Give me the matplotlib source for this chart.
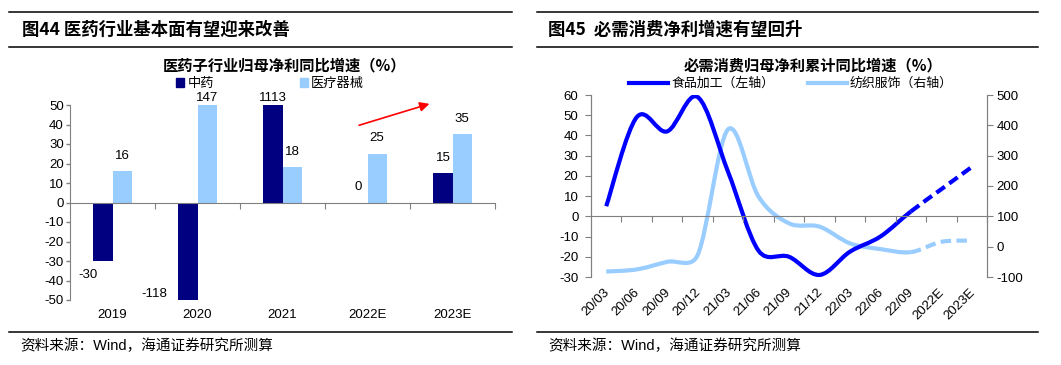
import numpy as np
import matplotlib
matplotlib.use('Agg')
import matplotlib.pyplot as plt
from matplotlib.path import Path
from matplotlib.patches import PathPatch, Patch
from matplotlib.lines import Line2D
from matplotlib.transforms import blended_transform_factory

plt.rcParams['font.family'] = ['Liberation Sans', 'Noto Sans CJK SC']
plt.rcParams['axes.unicode_minus'] = False

# ---- данные: левый график (医药) ----
years = ['2019', '2020', '2021', '2022E', '2023E']
tcm = [-30, -118, 1113, 0, 15]          # 中药
devices = [16, 147, 18, 25, 35]         # 医疗器械

# ---- данные: правый график (必需消费) ----
periods = ['20/03', '20/06', '20/09', '20/12', '21/03', '21/06', '21/09',
           '21/12', '22/03', '22/06', '22/09', '2022E', '2023E']
food = [5, 49, 42, 59, 22, -17, -20, -29, -17.5, -10, 2.4, 13.4, 24.4]      # 食品加工 (левая ось)
textile = [-82, -75, -50, -28, 387, 165, 77, 66, 11, -8, -18, 16, 20]     # 纺织服饰 (правая ось)
n_actual = 11  # первые 11 точек факт, дальше прогноз

GRAY = '#808080'
NAVY = '#000080'
LIGHT = '#99CCFF'
BLUE = '#0000FF'
CJK = ['Noto Sans CJK SC', 'DejaVu Sans']

W, H = 1061, 365
fig = plt.figure(figsize=(W / 100, H / 100), dpi=100)


def hline(x0, x1, y):
    fig.add_artist(Line2D([x0 / W, x1 / W], [1 - y / H, 1 - y / H],
                          transform=fig.transFigure, color='black', lw=1.1))


def smooth_segments(ax, x, y, clamp=0.5):
    """Bezier-сегменты сглаженной линии (примерно как в Excel), считаем в пикселях."""
    bb = ax.get_position()
    x0, x1 = ax.get_xlim()
    y0, y1 = ax.get_ylim()
    sx = bb.width * W / (x1 - x0)
    sy = bb.height * H / (y1 - y0)
    P = np.column_stack([np.asarray(x, float) * sx, np.asarray(y, float) * sy])
    n = len(P)
    T = [(P[min(i + 1, n - 1)] - P[max(i - 1, 0)]) / 6 for i in range(n)]

    def limit(v, L):
        m = np.hypot(*v)
        return v * (clamp * L / m) if m > clamp * L else v

    segs = []
    for i in range(n - 1):
        L = np.hypot(*(P[i + 1] - P[i]))
        c1 = P[i] + limit(T[i], L)
        c2 = P[i + 1] - limit(T[i + 1], L)
        pts = np.array([P[i], c1, c2, P[i + 1]])
        pts[:, 0] /= sx
        pts[:, 1] /= sy
        segs.append(pts)
    return segs


def draw_smooth(ax, segs, color, ls='-'):
    verts = [segs[0][0]]
    codes = [Path.MOVETO]
    for s in segs:
        verts += [s[1], s[2], s[3]]
        codes += [Path.CURVE4] * 3
    patch = PathPatch(Path(verts, codes), fill=False, edgecolor=color, lw=3,
                      linestyle=ls, transform=ax.transData, capstyle='butt')
    ax.add_patch(patch)


# ================= ЛЕВАЯ ПАНЕЛЬ =================
hline(9, 512, 12)
hline(9, 512, 47)
hline(9, 512, 332)
fig.text(22 / W, 1 - 30 / H, '图44 医药行业基本面有望迎来改善', family=CJK,
         fontsize=12.5, fontweight='bold', va='center', ha='left')
fig.text(285 / W, 1 - 65 / H, '医药子行业归母净利同比增速（%）', family=CJK,
         fontsize=11, fontweight='bold', va='center', ha='center')
fig.text(20 / W, 1 - 346 / H, '资料来源：Wind，海通证券研究所测算',
         fontsize=10.5, va='center', ha='left')

ax = fig.add_axes([70 / W, 65 / H, 425 / W, 195 / H])
x = np.arange(len(years))
bw = 0.225
ax.bar(x - bw / 2, tcm, bw, color=NAVY, label='中药')
ax.bar(x + bw / 2, devices, bw, color=LIGHT, label='医疗器械')
ax.set_xlim(-0.5, len(years) - 0.5)
ax.set_ylim(-50, 50)
ax.set_yticks(np.arange(-50, 51, 10))
ax.tick_params(axis='y', direction='out', length=3, width=1, color=GRAY,
               pad=1.5, labelsize=9.5)
ax.set_xticks(np.arange(0.5, len(years), 1))
ax.tick_params(axis='x', direction='out', length=4, color=GRAY, labelbottom=False)
ax.spines['bottom'].set_position(('data', 0))
for s in ['top', 'right']:
    ax.spines[s].set_visible(False)
for s in ['left', 'bottom']:
    ax.spines[s].set_color(GRAY)
ax.patch.set_visible(False)

tr = blended_transform_factory(ax.transData, ax.transAxes)
for i, lab in enumerate(years):
    ax.text(i, -0.077, lab, transform=tr, ha='center', va='center', fontsize=9.5)

# подписи значений
neg_shift = {0: (-11, -10), 1: (-24, 4)}
for vals, off in [(tcm, -bw / 2), (devices, bw / 2)]:
    for i, v in enumerate(vals):
        if v > 50:
            ax.annotate(str(v), (i + off, 50), xytext=(0, 1), textcoords='offset points',
                        ha='center', va='bottom', fontsize=9.5, annotation_clip=False)
        elif v >= 0:
            ax.annotate(str(v), (i + off, v), xytext=(0, 7), textcoords='offset points',
                        ha='center', va='bottom', fontsize=9.5)
        else:
            dx, dy = neg_shift.get(i, (-4, -10))
            ax.annotate(str(v), (i + off, max(v, -50)), xytext=(dx, dy),
                        textcoords='offset points', ha='center', va='center',
                        fontsize=9.5, annotation_clip=False)

ax.annotate('', xy=(3.76, 51), xytext=(2.87, 39.2),
            arrowprops=dict(arrowstyle='-|>', color='red', lw=1.2, mutation_scale=14),
            annotation_clip=False)

fig.legend(handles=[Patch(color=NAVY), Patch(color=LIGHT)], labels=['中药', '医疗器械'],
           loc='center', bbox_to_anchor=(270 / W, 1 - 84 / H), ncol=2, frameon=False,
           fontsize=9.5, handlelength=0.6, handleheight=0.6, handletextpad=0.25,
           columnspacing=6.5, borderaxespad=0, borderpad=0)

# ================= ПРАВАЯ ПАНЕЛЬ =================
hline(537, 1038, 12)
hline(537, 1038, 47)
hline(537, 1038, 332)
fig.text(548 / W, 1 - 30 / H, '图45  必需消费净利增速有望回升', family=CJK,
         fontsize=12.5, fontweight='bold', va='center', ha='left')
fig.text(813 / W, 1 - 65 / H, '必需消费归母净利累计同比增速（%）', family=CJK,
         fontsize=11, fontweight='bold', va='center', ha='center')
fig.text(548 / W, 1 - 346 / H, '资料来源：Wind，海通证券研究所测算',
         fontsize=10.5, va='center', ha='left')

ax1 = fig.add_axes([591 / W, 88 / H, 396 / W, 182 / H])
ax2 = ax1.twinx()
xr = np.arange(len(periods))
ax1.set_xlim(-0.5, len(periods) - 0.5)
ax1.set_ylim(-30, 60)
ax2.set_ylim(-100, 500)
ax1.set_yticks(np.arange(-30, 61, 10))
ax2.set_yticks(np.arange(-100, 501, 100))
ax1.set_xticks(np.arange(0.5, len(periods), 1))
ax1.tick_params(axis='x', direction='out', length=4, color=GRAY, labelbottom=False)
ax1.tick_params(axis='y', direction='out', length=4, color=GRAY, pad=5, labelsize=9.5)
ax2.tick_params(axis='y', direction='out', length=4, color=GRAY, pad=3, labelsize=9.5)
ax1.spines['bottom'].set_position(('data', 0))
for a in (ax1, ax2):
    a.spines['top'].set_visible(False)
    for s in ['left', 'right', 'bottom']:
        a.spines[s].set_color(GRAY)
ax2.spines['bottom'].set_visible(False)

seg_f = smooth_segments(ax1, xr, food)
seg_t = smooth_segments(ax2, xr, textile)
draw_smooth(ax2, seg_t[:n_actual - 1], LIGHT)
draw_smooth(ax2, seg_t[n_actual - 1:], LIGHT, ls=(0, (2.5, 1.3)))
draw_smooth(ax1, seg_f[:n_actual - 1], BLUE)
draw_smooth(ax1, seg_f[n_actual - 1:], BLUE, ls=(0, (2.5, 1.3)))
ax1.set_zorder(ax2.get_zorder() + 1)
ax1.patch.set_visible(False)

tr1 = blended_transform_factory(ax1.transData, ax1.transAxes)
for i, lab in enumerate(periods):
    ax1.text(i - 0.1, -0.05, lab, transform=tr1, rotation=45, rotation_mode='anchor',
             ha='right', va='top', fontsize=9.5)

fig.legend(handles=[Line2D([], [], color=BLUE, lw=3), Line2D([], [], color=LIGHT, lw=3)],
           labels=['食品加工（左轴）', '纺织服饰（右轴）'], loc='center',
           bbox_to_anchor=(791 / W, 1 - 84 / H), ncol=2, frameon=False, fontsize=9.3,
           handlelength=3.0, handletextpad=0.25, columnspacing=2.6,
           borderaxespad=0, borderpad=0)

fig.savefig('out.png', dpi=100)
